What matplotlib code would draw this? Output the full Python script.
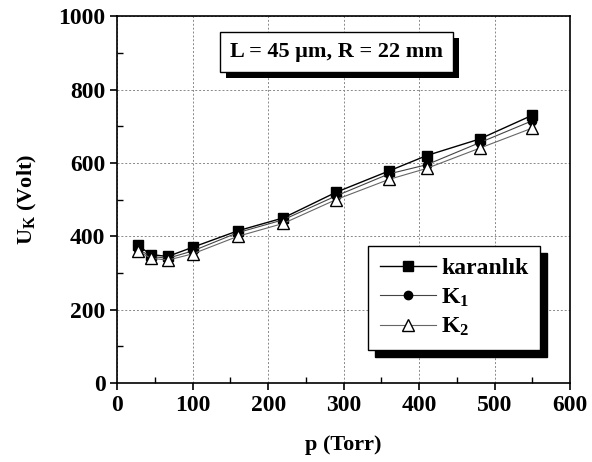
import matplotlib.pyplot as plt
import matplotlib.patheffects as pe
from matplotlib.ticker import MultipleLocator

# pressure (Torr) and breakdown voltage (Volt)
p = [27, 45, 67, 100, 160, 220, 290, 360, 410, 480, 550]
karanlik = [375, 350, 345, 370, 415, 450, 520, 578, 620, 665, 730]
k1 = [365, 345, 340, 360, 410, 445, 510, 570, 595, 655, 715]
k2 = [360, 340, 335, 352, 400, 435, 500, 555, 585, 640, 695]

plt.rcParams['font.family'] = 'Liberation Serif'
plt.rcParams['font.weight'] = 'bold'
plt.rcParams['axes.labelweight'] = 'bold'
plt.rcParams['mathtext.fontset'] = 'custom'
plt.rcParams['mathtext.rm'] = 'Liberation Serif:bold'
plt.rcParams['mathtext.it'] = 'Liberation Serif:bold'
plt.rcParams['mathtext.bf'] = 'Liberation Serif:bold'

fig = plt.figure(figsize=(5.92, 4.62), dpi=100)
ax = fig.add_axes([0.198, 0.171, 0.765, 0.794])

ax.plot(p, karanlik, '-s', color='black', lw=1.0, ms=7, label='karanlık')
ax.plot(p, k1, '-o', color='#444444', mfc='black', mec='black', lw=0.8, ms=6, label='$\\mathregular{K_1}$')
ax.plot(p, k2, '-^', color='#666666', mfc='white', mec='black', lw=0.8, ms=8, label='$\\mathregular{K_2}$')

ax.set_xlim(0, 600)
ax.set_ylim(0, 1000)
ax.xaxis.set_major_locator(MultipleLocator(100))
ax.yaxis.set_major_locator(MultipleLocator(200))
ax.xaxis.set_minor_locator(MultipleLocator(50))
ax.yaxis.set_minor_locator(MultipleLocator(100))
ax.tick_params(which='major', direction='out', length=5, width=1.2, labelsize=17)
ax.tick_params(which='minor', direction='in', length=4, width=1)
ax.grid(True, which='major', color='#888888', ls=(0, (2, 2)), lw=0.7)
for s in ax.spines.values():
    s.set_linewidth(1.2)

ax.set_xlabel('p (Torr)', fontsize=16, labelpad=14)
ax.set_ylabel('$\\mathregular{U_K}$ (Volt)', fontsize=16, labelpad=14)

# parameter box with a solid drop shadow
t = ax.text(291, 902, 'L = 45 μm, R = 22 mm', fontsize=16, ha='center', va='center',
            bbox=dict(boxstyle='square,pad=0.45', fc='white', ec='black', lw=1.0))
t.get_bbox_patch().set_path_effects([
    pe.SimplePatchShadow(offset=(4, -4), shadow_rgbFace='black', alpha=1),
    pe.Normal()])

leg = ax.legend(loc='lower right', bbox_to_anchor=(0.934, 0.09), borderaxespad=0,
                fontsize=17, frameon=True,
                fancybox=False, edgecolor='black', framealpha=1,
                shadow={'color': 'black', 'alpha': 1, 'ox': 5, 'oy': -5},
                handlelength=2.4, handletextpad=0.2, borderpad=0.5, labelspacing=0.3)
leg.get_frame().set_linewidth(1.0)

fig.savefig('out.png', dpi=100)
